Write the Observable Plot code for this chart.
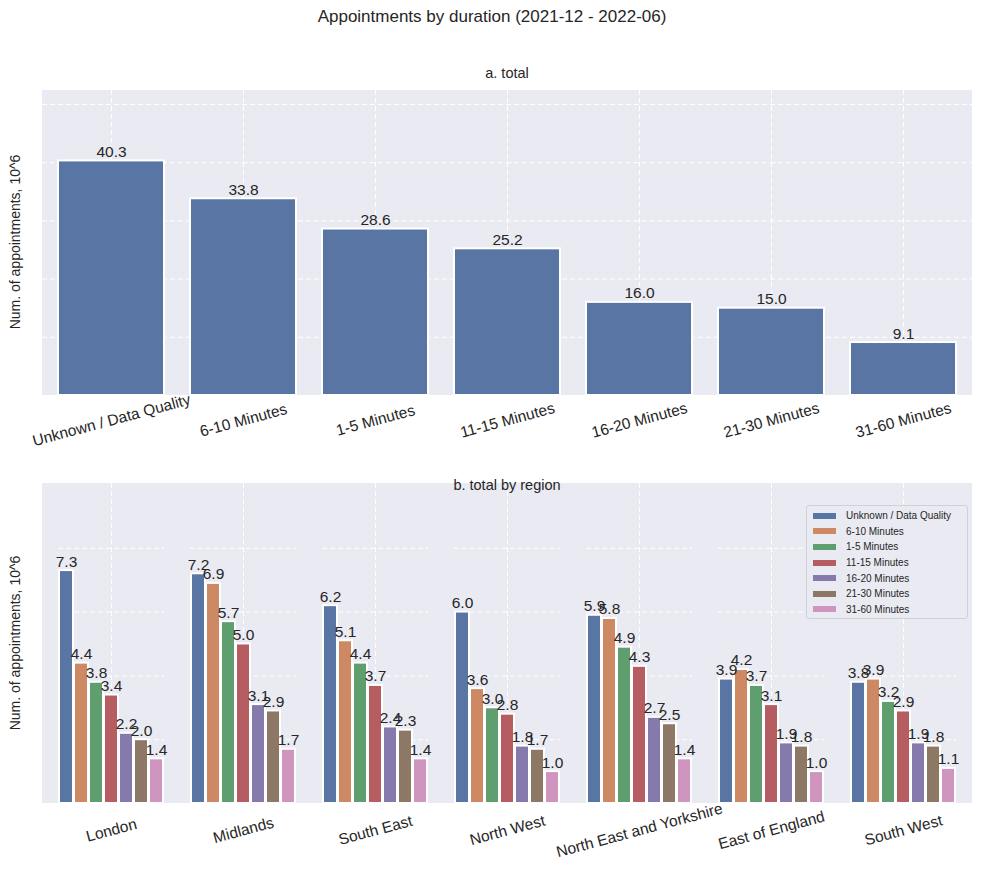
<!DOCTYPE html>
<html><head><meta charset="utf-8">
<script src="https://cdn.jsdelivr.net/npm/d3@7"></script>
<script src="https://cdn.jsdelivr.net/npm/@observablehq/plot@0.6"></script>
<style>
body{margin:0;background:#fff;font-family:"Liberation Sans",Arial,sans-serif;}
#wrap{position:relative;width:984px;height:882px;}
.abs{position:absolute;color:#262626;}
</style></head><body>
<div id="wrap">
<div class="abs" style="top:90px;left:42px;width:930px;height:305px;background:#eaeaf2"></div>
<div class="abs" style="top:483px;left:42px;width:930px;height:320px;background:#eaeaf2"></div>
<div id="c1" class="abs" style="top:60px;left:0"></div>
<div id="c2" class="abs" style="top:470px;left:0"></div>
<div class="abs" style="top:7px;left:0;width:984px;text-align:center;font-size:17px">Appointments by duration (2021-12 - 2022-06)</div>
<div class="abs" style="top:65px;left:42px;width:930px;text-align:center;font-size:14.5px">a. total</div>
<div class="abs" style="top:477px;left:42px;width:930px;text-align:center;font-size:14.5px">b. total by region</div>
<div class="abs" style="top:242px;left:15px;font-size:14px;transform:translate(-50%,-50%) rotate(-90deg);white-space:nowrap">Num. of appointments, 10^6</div>
<div class="abs" style="top:643px;left:15px;font-size:14px;transform:translate(-50%,-50%) rotate(-90deg);white-space:nowrap">Num. of appointments, 10^6</div>
<div id="leg" class="abs" style="top:505px;left:806px;width:162px;height:114px;background:#eaeaf2;border:1px solid #d0d0d8;border-radius:3px;font-size:10px;padding-top:2px;box-sizing:border-box"></div>
</div>
<script>
const durations = ["Unknown / Data Quality","6-10 Minutes","1-5 Minutes","11-15 Minutes","16-20 Minutes","21-30 Minutes","31-60 Minutes"];
const totals = [40.3,33.8,28.6,25.2,16.0,15.0,9.1];
const regions = ["London","Midlands","South East","North West","North East and Yorkshire","East of England","South West"];
const regionValues = [
 [7.3,4.4,3.8,3.4,2.2,2.0,1.4],
 [7.2,6.9,5.7,5.0,3.1,2.9,1.7],
 [6.2,5.1,4.4,3.7,2.4,2.3,1.4],
 [6.0,3.6,3.0,2.8,1.8,1.7,1.0],
 [5.9,5.8,4.9,4.3,2.7,2.5,1.4],
 [3.9,4.2,3.7,3.1,1.9,1.8,1.0],
 [3.8,3.9,3.2,2.9,1.9,1.8,1.1]
];
const colors = ["#5975a4","#cc8963","#5f9e6e","#b55d60","#857aab","#8d7866","#d095bf"];

const font = '"Liberation Sans",Arial,sans-serif';
const d1 = durations.map((d,i)=>({d, v: totals[i]}));
const p1 = Plot.plot({
  width:984, height:410, marginLeft:42, marginRight:12, marginTop:30, marginBottom:75,
  style:{fontFamily:font, background:"transparent", color:"#262626"},
  x:{domain:durations, paddingInner:0.2, paddingOuter:0.1, label:null},
  y:{domain:[0,52.4], label:null},
  marks:[
    Plot.gridY([10,20,30,40,50],{stroke:"white", strokeOpacity:1, strokeDasharray:"5,3", strokeWidth:1}),
    Plot.gridX({stroke:"white", strokeOpacity:1, strokeDasharray:"5,3", strokeWidth:1}),
    Plot.barY(d1,{x:"d", y:"v", fill:colors[0], stroke:"white", strokeWidth:2}),
    Plot.text(d1,{x:"d", y:"v", text:d=>d.v.toFixed(1), dy:-9, fontSize:15.5, fill:"#262626"}),
    Plot.axisX({tickSize:0, tickRotate:-15, textAnchor:"middle", fontSize:15.5, dy:12, label:null}),
    Plot.axisY({ticks:[], label:null})
  ]
});
document.getElementById("c1").appendChild(p1);

const d2 = [];
regions.forEach((r,i)=>durations.forEach((d,j)=>d2.push({r,d,v:regionValues[i][j]})));
const p2 = Plot.plot({
  width:984, height:412, marginLeft:42, marginRight:12, marginTop:13, marginBottom:79,
  style:{fontFamily:font, background:"transparent", color:"#262626"},
  fx:{domain:regions, paddingInner:0.2, paddingOuter:0.1, label:null},
  x:{domain:durations, padding:0.06, axis:null},
  y:{domain:[0,10.03], label:null},
  color:{domain:durations, range:colors},
  marks:[
    Plot.gridY([2,4,6,8],{stroke:"white", strokeOpacity:1, strokeDasharray:"5,3", strokeWidth:1}),
    Plot.ruleX([null],{x:()=>durations[3], stroke:"white", strokeDasharray:"5,3", strokeWidth:1}),
    Plot.barY(d2,{fx:"r", x:"d", y:"v", fill:"d", stroke:"white", strokeWidth:2}),
    Plot.text(d2,{fx:"r", x:"d", y:"v", text:d=>d.v.toFixed(1), dy:-9, fontSize:15.5, fill:"#262626"}),
    Plot.axisFx({tickSize:0, tickRotate:-15, textAnchor:"middle", fontSize:15.5, anchor:"bottom", dy:14, label:null}),
    Plot.axisY({ticks:[], label:null})
  ]
});
document.getElementById("c2").appendChild(p2);

const leg = document.getElementById("leg");
durations.forEach((d,i)=>{
  const row = document.createElement("div");
  row.style.cssText="display:flex;align-items:center;height:15.6px;padding-left:6px;color:#262626";
  row.innerHTML=`<span style="display:inline-block;width:23px;height:6px;background:${colors[i]};margin-right:10px"></span>${d}`;
  leg.appendChild(row);
});
</script>
</body></html>
